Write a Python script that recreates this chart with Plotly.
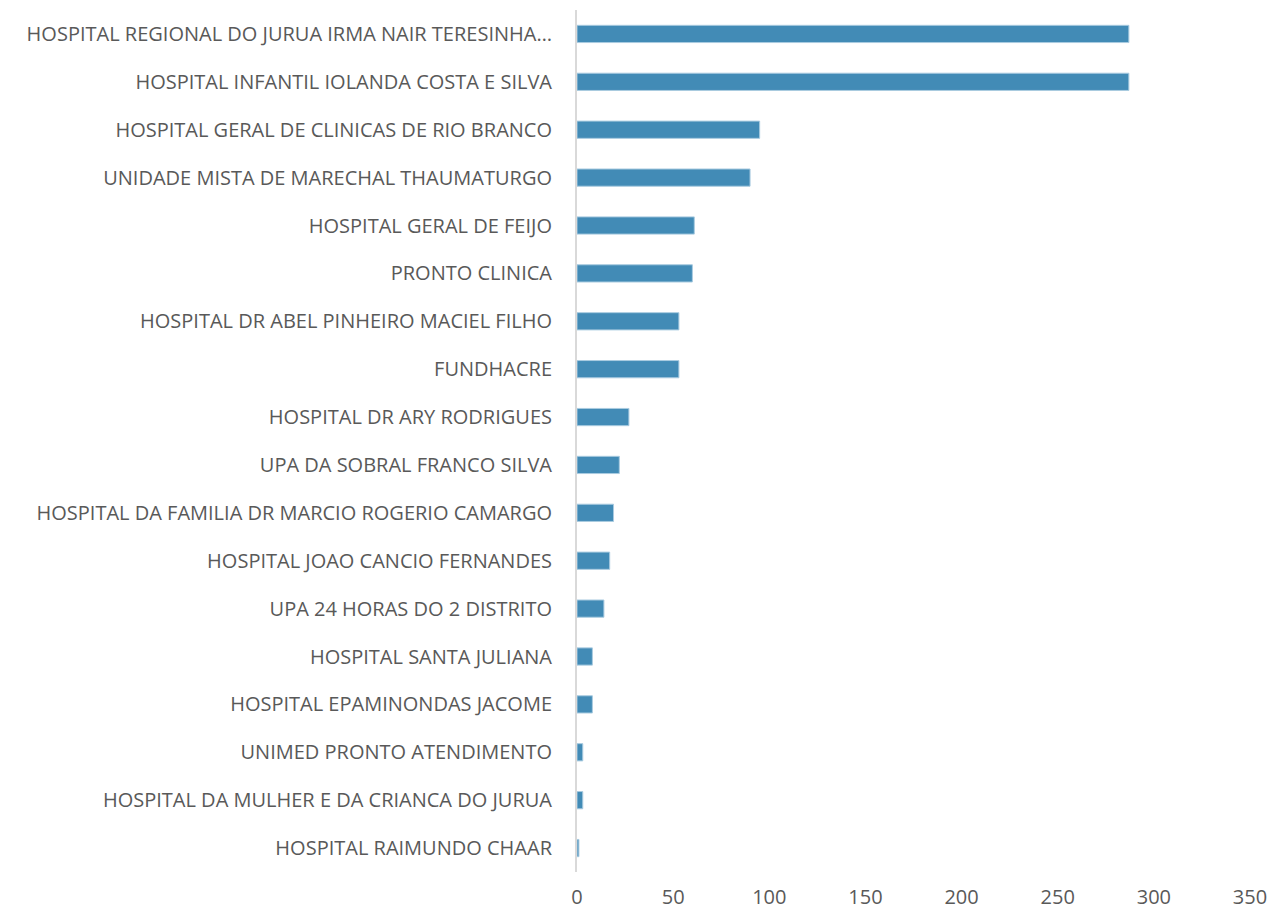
import plotly.graph_objects as go

categories = [
    "HOSPITAL REGIONAL DO JURUA IRMA NAIR TERESINHA…",
    "HOSPITAL INFANTIL IOLANDA COSTA E SILVA",
    "HOSPITAL GERAL DE CLINICAS DE RIO BRANCO",
    "UNIDADE MISTA DE MARECHAL THAUMATURGO",
    "HOSPITAL GERAL DE FEIJO",
    "PRONTO CLINICA",
    "HOSPITAL DR ABEL PINHEIRO MACIEL FILHO",
    "FUNDHACRE",
    "HOSPITAL DR ARY RODRIGUES",
    "UPA DA SOBRAL FRANCO SILVA",
    "HOSPITAL DA FAMILIA DR MARCIO ROGERIO CAMARGO",
    "HOSPITAL JOAO CANCIO FERNANDES",
    "UPA 24 HORAS DO 2 DISTRITO",
    "HOSPITAL SANTA JULIANA",
    "HOSPITAL EPAMINONDAS JACOME",
    "UNIMED PRONTO ATENDIMENTO",
    "HOSPITAL DA MULHER E DA CRIANCA DO JURUA",
    "HOSPITAL RAIMUNDO CHAAR",
]
values = [287, 287, 95, 90, 61, 60, 53, 53, 27, 22, 19, 17, 14, 8, 8, 3, 3, 1]
x_ticks = [0, 50, 100, 150, 200, 250, 300, 350]

fig = go.Figure(
    go.Bar(
        y=categories,
        x=values,
        orientation="h",
        marker=dict(color="#428BB6", line=dict(color="#A9CBE0", width=1)),
        width=0.36,
    )
)

fig.update_layout(
    template="none",
    width=1270,
    height=912,
    margin=dict(l=577, r=20, t=10, b=40, pad=0),
    plot_bgcolor="white",
    paper_bgcolor="white",
    showlegend=False,
    font=dict(family="Open Sans", size=20, color="#595959"),
)
fig.update_xaxes(
    range=[0, 350],
    tickvals=x_ticks,
    showgrid=False,
    zeroline=False,
    showline=False,
    ticks="",
    automargin=False,
    ticklabelstandoff=11,
    tickfont=dict(size=20, color="#595959"),
)
fig.update_yaxes(
    autorange="reversed",
    showgrid=False,
    zeroline=False,
    showline=True,
    linecolor="#D9D9D9",
    linewidth=2,
    ticks="",
    automargin=False,
    ticklabelstandoff=19,
    tickfont=dict(size=20, color="#595959"),
)

fig.write_html(
    "out.html",
    config={"displayModeBar": False},
    post_script="document.body.style.margin='0';document.body.style.overflow='hidden';",
)
